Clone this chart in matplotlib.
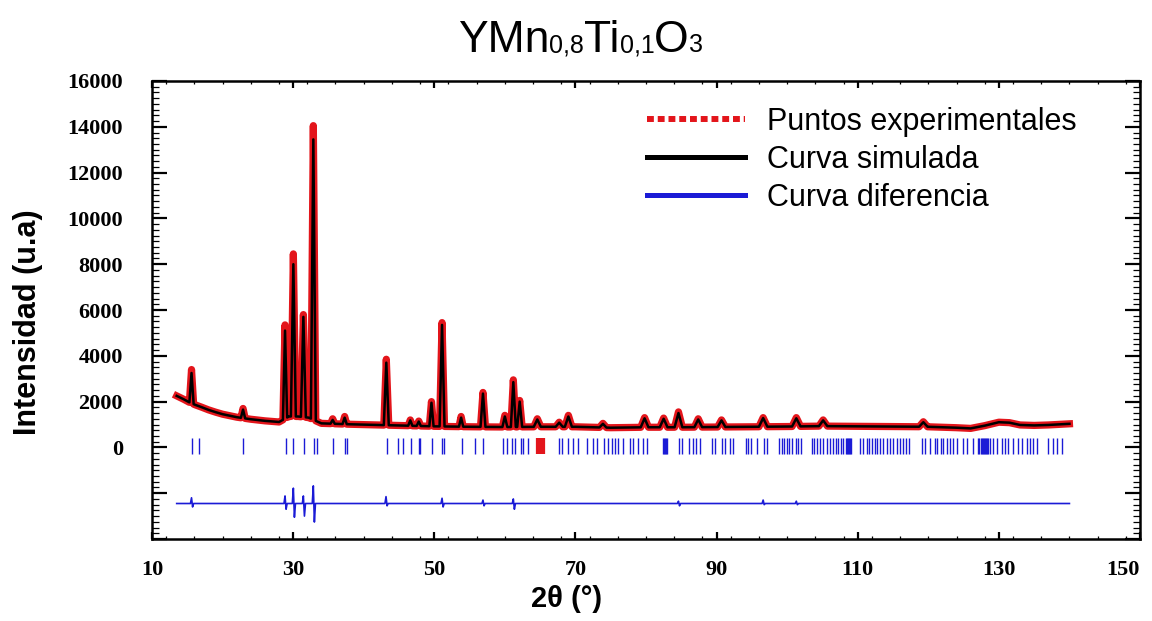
import matplotlib.pyplot as plt
from matplotlib.lines import Line2D
from matplotlib.ticker import MultipleLocator
import numpy as np

plt.rcParams["font.family"] = ["Liberation Sans", "DejaVu Sans"]

# background under the pattern (2theta, counts)
bg_theta = [13.5, 14.5, 15.2, 16.2, 17, 18, 19, 20, 22, 24, 26, 28, 29.4, 30.7,
            32.2, 34, 38, 42, 46, 50, 55, 60, 65, 70, 75, 80, 85, 90, 95, 100,
            105, 110, 115, 120, 124, 126, 128, 130, 131.5, 133, 135, 137, 140]
bg_counts = [2250, 2100, 1980, 1850, 1760, 1640, 1540, 1450, 1320, 1230, 1160,
             1110, 1350, 1350, 1300, 1050, 1010, 980, 950, 920, 900, 890, 900,
             900, 860, 880, 880, 890, 900, 910, 930, 920, 910, 900, 860, 830,
             950, 1100, 1080, 980, 960, 980, 1030]

# reflections: position, observed top, calculated top, half base width
peak_theta = [15.6, 22.9, 28.85, 30.03, 31.45, 32.86, 35.6, 37.3, 43.2, 46.6,
              47.8, 49.6, 51.1, 53.8, 56.9, 60.0, 61.2, 62.1, 64.6, 67.7, 69.0,
              73.9, 79.8, 82.5, 84.6, 87.4, 90.7, 96.6, 101.3, 105.1, 119.3]
peak_obs = [3400, 1700, 5350, 8450, 5800, 14050, 1250, 1350, 3850, 1200, 1150,
            2000, 5450, 1350, 2400, 1400, 2950, 2050, 1250, 1100, 1400, 1050,
            1300, 1280, 1550, 1250, 1200, 1300, 1300, 1200, 1120]
peak_calc = [3250, 1650, 5100, 8000, 5700, 13450, 1200, 1300, 3700, 1180, 1130,
             1950, 5350, 1300, 2350, 1350, 2850, 2000, 1220, 1080, 1350, 1030,
             1270, 1250, 1500, 1220, 1180, 1280, 1270, 1180, 1100]
peak_hw = [0.3, 0.3, 0.3, 0.35, 0.35, 0.35, 0.3, 0.3, 0.35, 0.3, 0.3, 0.3, 0.35,
           0.3, 0.35, 0.35, 0.35, 0.35, 0.5, 0.5, 0.5, 0.5, 0.55, 0.55, 0.55,
           0.55, 0.55, 0.6, 0.6, 0.6, 0.6]

# difference curve (obs - calc, shifted down)
diff_start, diff_end, diff_base = 13.5, 140.0, -2450
diff_theta = [15.6, 28.85, 30.03, 31.45, 32.86, 43.16, 51.1, 56.9, 61.2,
              84.6, 96.6, 101.3]
diff_high = [-2200, -2120, -1780, -2120, -1680, -2150, -2220, -2300, -2250,
             -2350, -2300, -2350]
diff_low = [-2600, -2700, -3050, -3000, -3260, -2550, -2600, -2550, -2700,
            -2550, -2500, -2500]

# Bragg reflection markers
hkl_theta = [15.62, 16.66, 22.94, 28.94, 30.03, 31.54, 32.96, 33.33, 35.7,
             37.35, 37.68, 43.25, 44.9, 45.6, 46.65, 47.8, 47.95, 49.63, 51.05,
             51.37, 53.88, 55.77, 56.95, 59.78, 60.35, 60.97, 61.44, 62.24,
             62.62, 63.32, 67.67, 68.05, 68.99, 69.7, 70.41, 71.68, 72.54, 73.0,
             74.05, 74.66, 75.14, 75.6, 76.07, 76.7, 77.73, 78.2, 78.9, 79.6,
             80.1, 82.37, 82.55, 82.7, 82.87, 83.03, 84.73, 85.06, 86.14, 86.71,
             87.09, 87.66, 89.31, 89.78, 90.73, 91.2, 91.9, 92.29, 94.17, 94.5,
             94.84, 95.69, 96.72, 97.19, 98.89, 99.23, 99.56, 99.94, 100.3,
             100.65, 101.26, 101.6, 101.93, 103.48, 103.81, 104.19, 104.66,
             105.13, 105.6, 106.07, 106.55, 106.92, 107.26, 107.59, 107.96,
             108.34, 108.5, 108.65, 108.8, 108.95, 109.1, 110.33, 110.8, 111.27,
             111.65, 111.98, 112.45, 112.78, 113.16, 113.63, 114.1, 114.57,
             115.04, 115.52, 115.99, 116.36, 116.84, 117.31, 119.05, 119.53,
             120.24, 120.94, 121.27, 121.74, 122.12, 122.59, 123.06, 123.53,
             124.0, 124.95, 125.42, 126.36, 127.1, 127.25, 127.4, 127.55, 127.7,
             127.85, 128.0, 128.15, 128.3, 128.45, 128.73, 129.2, 129.67, 130.38,
             130.85, 131.32, 132.03, 132.74, 133.21, 133.92, 134.39, 134.87,
             135.34, 136.99, 137.7, 138.27, 138.88]
excluded_theta = [64.6, 64.8, 65.0, 65.2, 65.4, 65.55]

xtick_values = list(range(10, 151, 20))
ytick_values = list(range(-4000, 16001, 2000))
ytick_labels = ["", ""] + [str(v) for v in range(0, 16001, 2000)]

title_parts = [("YMn", 32), ("0,8", 18), ("Ti", 32), ("0,1", 18), ("O", 32), ("3", 18)]

RED = "#e3151b"
BLUE = "#1b1bd6"


def build_profile(tops):
    # background anchors outside the peak windows, plus a triangle per peak
    xs, ys = [], []
    for t, c in zip(bg_theta, bg_counts):
        if all(abs(t - p) > w for p, w in zip(peak_theta, peak_hw)):
            xs.append(t)
            ys.append(c)
    for p, top, w in zip(peak_theta, tops, peak_hw):
        xs += [p - w, p, p + w]
        ys += [np.interp(p - w, bg_theta, bg_counts), top,
               np.interp(p + w, bg_theta, bg_counts)]
    order = np.argsort(xs)
    return np.array(xs)[order], np.array(ys)[order]


def build_difference():
    xs, ys = [diff_start], [diff_base]
    for t, hi, lo in zip(diff_theta, diff_high, diff_low):
        xs += [t - 0.15, t, t + 0.15, t + 0.3]
        ys += [diff_base, hi, lo, diff_base]
    xs.append(diff_end)
    ys.append(diff_base)
    return xs, ys


fig = plt.figure(figsize=(11.52, 6.21), dpi=100)
ax = fig.add_axes([152 / 1152, 1 - 539 / 621, 988 / 1152, 458 / 621])

obs_x, obs_y = build_profile(peak_obs)
calc_x, calc_y = build_profile(peak_calc)
diff_x, diff_y = build_difference()

ax.plot(obs_x, obs_y, color=RED, linewidth=5.2, solid_joinstyle="round", zorder=2)
ax.plot(calc_x, calc_y, color="black", linewidth=1.8, zorder=3)
ax.plot(diff_x, diff_y, color=BLUE, linewidth=1.2, zorder=3)
ax.vlines(hkl_theta, -280, 400, color=BLUE, linewidth=1.0)
ax.vlines(excluded_theta, -280, 400, color=RED, linewidth=1.6)

ax.set_xlim(10, 150)
ax.set_ylim(-4000, 16000)
ax.set_xticks(xtick_values)
ax.set_yticks(ytick_values, ytick_labels)
ax.xaxis.set_minor_locator(MultipleLocator(4))
ax.yaxis.set_minor_locator(MultipleLocator(250))

ax.tick_params(which="both", direction="in", top=True, right=True)
ax.tick_params(axis="y", which="major", length=11, width=1.6, pad=21, labelsize=16)
ax.tick_params(axis="y", which="minor", length=5, width=0.9)
ax.tick_params(axis="x", which="major", length=5, width=1.6, pad=15, labelsize=16)
ax.tick_params(axis="x", which="minor", length=2.5, width=0.9)
for lab in ax.get_xticklabels() + ax.get_yticklabels():
    lab.set_fontfamily("Liberation Serif")
    lab.set_fontweight("bold")
# keep the last x label inside the figure
ax.get_xticklabels()[-1].set_horizontalalignment("right")
for side in ax.spines.values():
    side.set_linewidth(1.8)

ax.set_xlabel("2θ (°)", fontsize=21, fontweight="bold")
ax.xaxis.set_label_coords(0.42, -0.10)
ax.set_ylabel("Intensidad (u.a)", fontsize=22, fontweight="bold")
ax.yaxis.set_label_coords(-0.11, 0.474)

handles = [
    Line2D([], [], color=RED, linewidth=4.3, linestyle=(0, (1.15, 0.65))),
    Line2D([], [], color="black", linewidth=3.6),
    Line2D([], [], color=BLUE, linewidth=3.6),
]
ax.legend(handles, ["Puntos experimentales", "Curva simulada", "Curva diferencia"],
          loc="upper left", bbox_to_anchor=(0.501, 0.944), frameon=False,
          fontsize=22, borderpad=0, borderaxespad=0, handlelength=3.2,
          handletextpad=0.72, labelspacing=0.27)

# formula title with subscripts, each piece placed after the previous one
y_base = 1 - 52 / 621
prev = fig.text(458 / 1152, y_base, title_parts[0][0], fontsize=title_parts[0][1],
                ha="left", va="baseline")
for text, size in title_parts[1:]:
    prev = ax.annotate(text, xy=(1, y_base), xycoords=(prev, "figure fraction"),
                       fontsize=size, ha="left", va="baseline",
                       annotation_clip=False)

fig.savefig("out.png", dpi=100)
